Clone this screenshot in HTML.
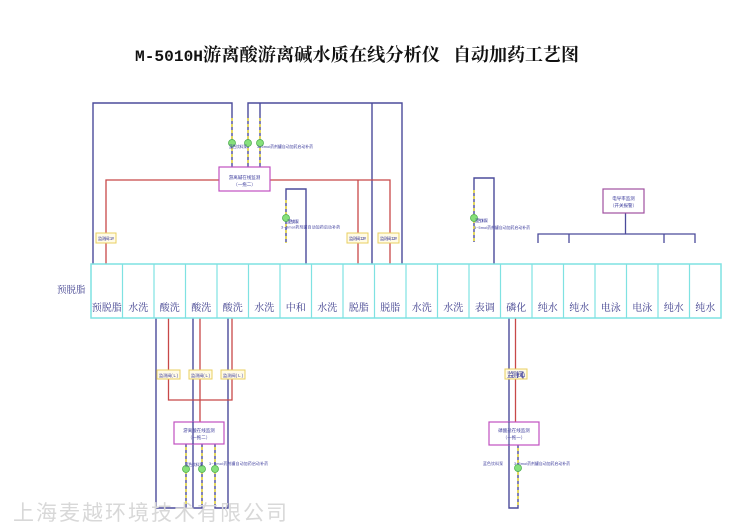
<!DOCTYPE html>
<html><head><meta charset="utf-8"><style>
html,body{margin:0;padding:0;background:#fff;}
svg{display:block;}
.t{font-family:"Liberation Serif","Noto Serif CJK SC",serif;}
.s{font-family:"Liberation Sans","Noto Sans CJK SC",sans-serif;}
</style></head><body>
<svg width="750" height="530" viewBox="0 0 750 530" xmlns="http://www.w3.org/2000/svg">
<rect width="750" height="530" fill="#fff"/>
<!-- Title -->
<text x="135" y="61" font-family="Liberation Mono, monospace" font-size="16" font-weight="bold" fill="#111" textLength="68" lengthAdjust="spacingAndGlyphs">M-5010H</text>
<text x="203" y="61" class="t" font-size="18" font-weight="bold" fill="#111" textLength="237" lengthAdjust="spacingAndGlyphs">游离酸游离碱水质在线分析仪</text>
<text x="453" y="61" class="t" font-size="18" font-weight="bold" fill="#111" textLength="126" lengthAdjust="spacingAndGlyphs">自动加药工艺图</text>

<g fill="none" stroke-linejoin="miter">
<!-- top blue pipes -->
<path d="M93 264 V103 H232 V167" stroke="#4b4b9b" stroke-width="1.4"/>
<path d="M248 167 V103 H402 V264" stroke="#4b4b9b" stroke-width="1.4"/>
<line x1="260" y1="103" x2="260" y2="167" stroke="#4b4b9b" stroke-width="1.4"/>
<line x1="372" y1="103" x2="372" y2="264" stroke="#4b4b9b" stroke-width="1.4"/>
<!-- top red -->
<path d="M106 264 V180 H219" stroke="#c84848" stroke-width="1.3"/>
<path d="M270 180 H390 V264" stroke="#c84848" stroke-width="1.3"/>
<line x1="358" y1="180" x2="358" y2="264" stroke="#c84848" stroke-width="1.3"/>
<!-- neutral bracket -->
<path d="M286 243 V189 H306 V264" stroke="#4b4b9b" stroke-width="1.4"/>
<!-- right top bracket -->
<path d="M474 242 V178 H494 V264" stroke="#4b4b9b" stroke-width="1.4"/>
<!-- conductivity tree -->
<line x1="625.5" y1="213" x2="625.5" y2="234" stroke="#4b4b9b" stroke-width="1.3"/>
<path d="M538 243 V234 H695 V243" stroke="#4b4b9b" stroke-width="1.3"/>
<line x1="569" y1="234" x2="569" y2="243" stroke="#4b4b9b" stroke-width="1.3"/>
<line x1="664" y1="234" x2="664" y2="243" stroke="#4b4b9b" stroke-width="1.3"/>
<!-- bottom left -->
<path d="M156 318 V508 H186 V444" stroke="#4b4b9b" stroke-width="1.4"/>
<path d="M193 318 V508 H202 V444" stroke="#4b4b9b" stroke-width="1.4"/>
<path d="M228 318 V508 H215 V444" stroke="#4b4b9b" stroke-width="1.4"/>
<path d="M168.5 318 V400 H232 V318" stroke="#c84848" stroke-width="1.3"/>
<line x1="200" y1="318" x2="200" y2="422" stroke="#c84848" stroke-width="1.3"/>
<!-- bottom right -->
<path d="M509 318 V508 H518 V445" stroke="#4b4b9b" stroke-width="1.4"/>
<line x1="515.5" y1="318" x2="515.5" y2="422" stroke="#c84848" stroke-width="1.3"/>

<!-- yellow dashes -->
<g stroke="#f2e23a" stroke-width="1.5" stroke-dasharray="3 3">
<line x1="232" y1="118" x2="232" y2="166"/>
<line x1="248" y1="118" x2="248" y2="166"/>
<line x1="260" y1="118" x2="260" y2="166"/>
<line x1="286" y1="200" x2="286" y2="243"/>
<line x1="474" y1="190" x2="474" y2="242"/>
<line x1="186" y1="447" x2="186" y2="505"/>
<line x1="202" y1="447" x2="202" y2="505"/>
<line x1="215" y1="447" x2="215" y2="505"/>
<line x1="518" y1="448" x2="518" y2="505"/>
</g>
</g>

<!-- green valves -->
<g fill="#86e07a" stroke="#4fb04f" stroke-width="0.8">
<circle cx="232" cy="143" r="3.5"/><circle cx="248" cy="143" r="3.5"/><circle cx="260" cy="143" r="3.5"/>
<circle cx="286" cy="218" r="3.5"/><circle cx="474" cy="218" r="3.5"/>
<circle cx="186" cy="469" r="3.5"/><circle cx="202" cy="469" r="3.5"/><circle cx="215" cy="469" r="3.5"/>
<circle cx="518" cy="468" r="3.5"/>
</g>

<!-- boxes -->
<g fill="#fff" stroke="#c050c0" stroke-width="1.2">
<rect x="219" y="167" width="51" height="24"/>
<rect x="174" y="422" width="50" height="22"/>
<rect x="489" y="422" width="50" height="23"/>
<rect x="603" y="189" width="41" height="24" stroke="#a050a0"/>
</g>
<line x1="193" y1="422" x2="193" y2="444" stroke="#4b4b9b" stroke-width="1.4"/>
<line x1="509" y1="422" x2="509" y2="445" stroke="#4b4b9b" stroke-width="1.2"/>

<g class="s" fill="#3c3c9c" font-size="4.5" text-anchor="middle">
<text x="244.5" y="179">游离碱在线监测</text><text x="244.5" y="186">（一拖二）</text>
<text x="199" y="432">游离酸在线监测</text><text x="199" y="439">（一拖二）</text>
<text x="514" y="432">磷酸盐在线监测</text><text x="514" y="439">（一拖一）</text>
<text x="623.5" y="200">电导率监测</text><text x="623.5" y="207">（开关报警）</text>
</g>

<!-- yellow label boxes -->
<g fill="#fffbe6" stroke="#e8cf60" stroke-width="1">
<rect x="96" y="233" width="20" height="10"/>
<rect x="347" y="233" width="21" height="10"/>
<rect x="378" y="233" width="21" height="10"/>
<rect x="157" y="370" width="23" height="9"/>
<rect x="189" y="370" width="23" height="9"/>
<rect x="221" y="370" width="24" height="9"/>
<rect x="505" y="369" width="22" height="10"/>
</g>
<g class="s" fill="#3c3c9c" font-size="4.2">
<text x="98" y="240" textLength="16">监测阀: 1#</text>
<text x="349" y="240" textLength="17">监测阀: 13#</text>
<text x="380" y="240" textLength="17">监测阀: 13#</text>
<text x="159" y="377" textLength="19">监测阀( L )</text>
<text x="191" y="377" textLength="19">监测阀( L )</text>
<text x="223" y="377" textLength="20">监测阀( L )</text>
<text x="507" y="377" font-size="7" textLength="18">监测阀(L)</text>
</g>

<!-- small pump labels -->
<g class="s" fill="#3c3c9c" font-size="3.8">
<text x="229" y="148" textLength="18">蓝色饮料泵</text>
<text x="257" y="148" textLength="56">3~5mol药剂罐自动加药启动补药</text>
<text x="287" y="223" textLength="12">蓝色饮料泵</text>
<text x="281" y="228.5" textLength="59">3~5mol药剂罐自动加药启动补药</text>
<text x="475" y="222" textLength="13">蓝色饮料泵</text>
<text x="474" y="229" textLength="56">3~5mol药剂罐自动加药启动补药</text>
<text x="185" y="466" textLength="18">蓝色饮料泵</text>
<text x="209" y="465" textLength="59">3~5mol药剂罐自动加药启动补药</text>
<text x="483" y="465" textLength="20">蓝色饮料泵</text>
<text x="514" y="465" textLength="56">3~5mol药剂罐自动加药启动补药</text>
</g>

<!-- tank row -->
<rect x="91" y="264" width="630" height="54" fill="#fff" stroke="#7fe2e2" stroke-width="1.5"/>
<g stroke="#7fe2e2" stroke-width="1.2">
<line x1="122.5" y1="264" x2="122.5" y2="318"/><line x1="154" y1="264" x2="154" y2="318"/>
<line x1="185.5" y1="264" x2="185.5" y2="318"/><line x1="217" y1="264" x2="217" y2="318"/>
<line x1="248.5" y1="264" x2="248.5" y2="318"/><line x1="280" y1="264" x2="280" y2="318"/>
<line x1="311.5" y1="264" x2="311.5" y2="318"/><line x1="343" y1="264" x2="343" y2="318"/>
<line x1="374.5" y1="264" x2="374.5" y2="318"/><line x1="406" y1="264" x2="406" y2="318"/>
<line x1="437.5" y1="264" x2="437.5" y2="318"/><line x1="469" y1="264" x2="469" y2="318"/>
<line x1="500.5" y1="264" x2="500.5" y2="318"/><line x1="532" y1="264" x2="532" y2="318"/>
<line x1="563.5" y1="264" x2="563.5" y2="318"/><line x1="595" y1="264" x2="595" y2="318"/>
<line x1="626.5" y1="264" x2="626.5" y2="318"/><line x1="658" y1="264" x2="658" y2="318"/>
<line x1="689.5" y1="264" x2="689.5" y2="318"/>
</g>
<g class="t" fill="#3c3c8c" font-size="10" text-anchor="middle">
<text x="106.75" y="311">预脱脂</text><text x="138.25" y="311">水洗</text>
<text x="169.75" y="311">酸洗</text><text x="201.25" y="311">酸洗</text>
<text x="232.75" y="311">酸洗</text><text x="264.25" y="311">水洗</text>
<text x="295.75" y="311">中和</text><text x="327.25" y="311">水洗</text>
<text x="358.75" y="311">脱脂</text><text x="390.25" y="311">脱脂</text>
<text x="421.75" y="311">水洗</text><text x="453.25" y="311">水洗</text>
<text x="484.75" y="311">表调</text><text x="516.25" y="311">磷化</text>
<text x="547.75" y="311">纯水</text><text x="579.25" y="311">纯水</text>
<text x="610.75" y="311">电泳</text><text x="642.25" y="311">电泳</text>
<text x="673.75" y="311">纯水</text><text x="705.25" y="311">纯水</text>
</g>
<text x="57" y="293" class="t" fill="#3c3c8c" font-size="9.5">预脱脂</text>

<!-- footer -->
<text x="13" y="520" class="s" fill="#d8d8d8" font-size="21" textLength="274" lengthAdjust="spacing">上海麦越环境技术有限公司</text>
</svg>
</body></html>
